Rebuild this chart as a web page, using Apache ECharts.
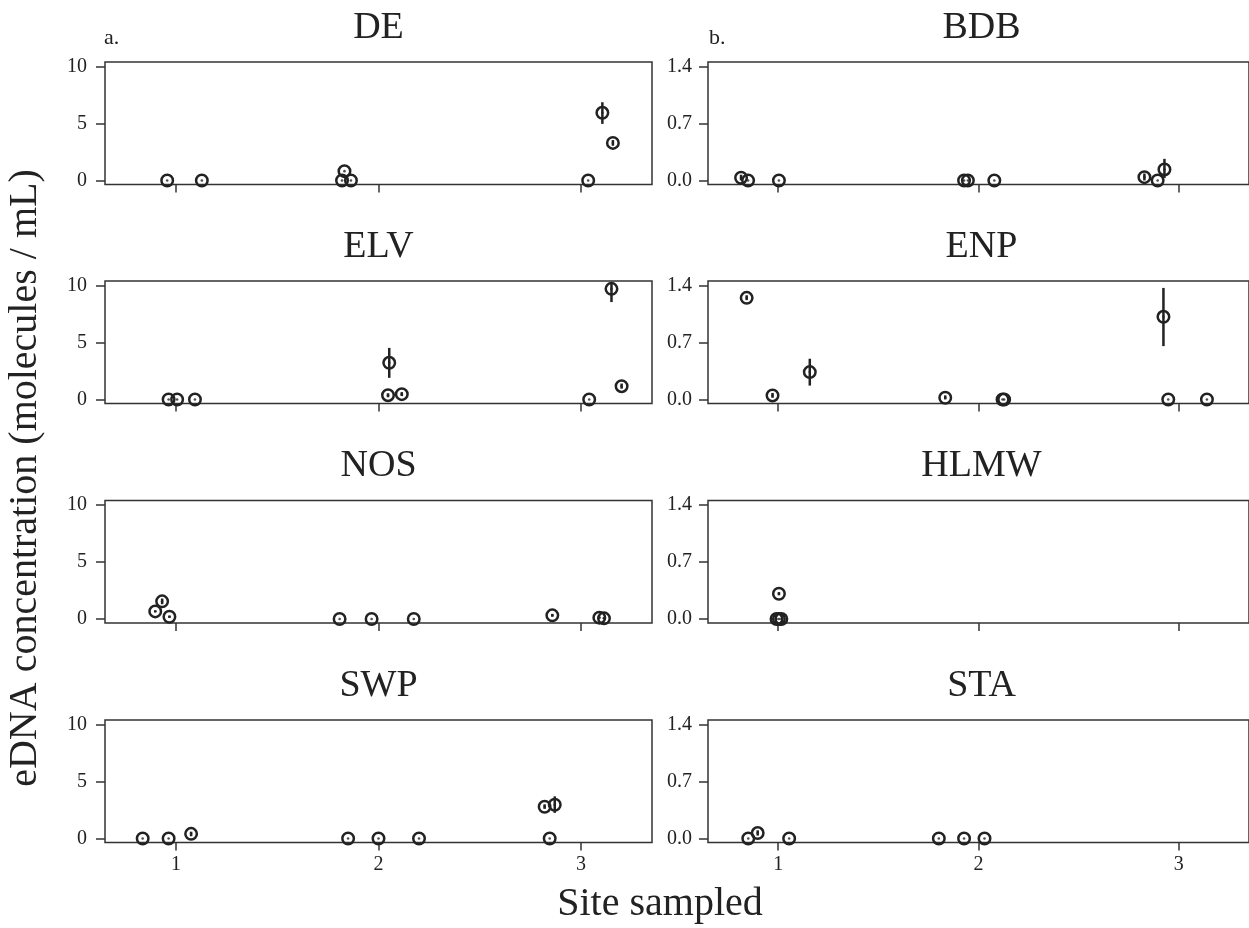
<!DOCTYPE html>
<html>
<head>
<meta charset="utf-8">
<script src="https://cdn.jsdelivr.net/npm/echarts@6/dist/echarts.min.js"></script>
<style>
  html, body { margin: 0; padding: 0; background: #fff; }
  #chart { width: 1249px; height: 928px; }
</style>
</head>
<body>
<div id="chart"></div>
<script>
// ---- Data: each row = [site (jittered), concentration, lower, upper] ----
const DE = [
  [0.957, 0, 0, 0], [1.128, 0, 0, 0],
  [1.820, 0, 0, 0], [1.832, 0.82, 0.82, 0.82], [1.864, 0, 0, 0],
  [3.035, 0, 0, 0], [3.105, 5.94, 4.97, 6.87], [3.157, 3.30, 3.05, 3.55]
];
const ELV = [
  [0.964, 0, 0, 0], [1.006, 0, 0, 0], [1.094, 0, 0, 0],
  [2.053, 3.22, 1.90, 4.53], [2.047, 0.38, 0.20, 0.55], [2.115, 0.47, 0.30, 0.65],
  [3.040, 0, 0, 0], [3.150, 9.71, 8.55, 10.25], [3.200, 1.17, 0.95, 1.40]
];
const NOS = [
  [0.898, 0.67, 0.60, 0.75], [0.932, 1.55, 1.30, 1.80], [0.968, 0.20, 0.10, 0.30],
  [1.808, 0, 0, 0], [1.966, 0, 0, 0], [2.174, 0, 0, 0],
  [2.858, 0.32, 0.20, 0.45], [3.090, 0.12, 0.05, 0.20], [3.113, 0.06, 0.00, 0.15]
];
const SWP = [
  [0.836, 0, 0, 0], [0.964, 0, 0, 0], [1.075, 0.41, 0.20, 0.60],
  [1.850, 0, 0, 0], [2.000, 0, 0, 0], [2.200, 0, 0, 0],
  [2.820, 2.79, 2.60, 3.00], [2.870, 2.96, 2.25, 3.70], [2.845, 0, 0, 0]
];
const BDB = [
  [0.815, 0.033, 0.000, 0.070], [0.850, 0, 0, 0], [1.004, 0, 0, 0],
  [1.928, 0, 0, 0], [1.947, 0, 0, 0], [2.079, 0, 0, 0],
  [2.828, 0.040, 0.000, 0.085], [2.894, 0, 0, 0], [2.928, 0.135, 0.030, 0.265]
];
const ENP = [
  [0.843, 1.248, 1.220, 1.280], [0.972, 0.049, 0.020, 0.080], [1.158, 0.336, 0.170, 0.500],
  [1.834, 0.020, 0.000, 0.050], [2.120, 0, 0, 0], [2.128, 0, 0, 0],
  [2.923, 1.015, 0.655, 1.370], [2.947, 0, 0, 0], [3.140, 0, 0, 0]
];
const HLMW = [
  [1.004, 0.31, 0.29, 0.33], [0.992, 0, 0, 0], [1.004, 0, 0, 0], [1.016, 0, 0, 0]
];
const STA = [
  [0.851, 0, 0, 0], [0.898, 0.066, 0.035, 0.100], [1.055, 0, 0, 0],
  [1.802, 0, 0, 0], [1.928, 0, 0, 0], [2.030, 0, 0, 0]
];

const leftTicks = [0, 5, 10];
const rightTicks = [0, 0.7, 1.4];
const siteTicks = [1, 2, 3];
const leftNames = ['DE', 'ELV', 'NOS', 'SWP'];
const rightNames = ['BDB', 'ENP', 'HLMW', 'STA'];
const leftData = [DE, ELV, NOS, SWP];
const rightData = [BDB, ENP, HLMW, STA];

// ---- Layout ----
const FONT = '"Liberation Serif", "Times New Roman", serif';
const INK = '#222';
const colX = [105, 708];
const W = 547;
const rowTop = [62, 281, 500.5, 720];
const H = 122.5;

const grids = [], xAxes = [], yAxes = [], series = [], graphics = [];

function addPanel(col, row, name, data) {
  const idx = grids.length;
  const left = colX[col], top = rowTop[row];
  grids.push({ left: left, top: top, width: W, height: H, show: true,
    borderColor: '#333', borderWidth: 1.5, backgroundColor: 'transparent' });
  const bottomRow = row === 3;
  xAxes.push({
    type: 'value', gridIndex: idx, min: 0.65, max: 3.35, position: 'bottom',
    axisLine: { show: false, onZero: false },
    axisTick: { show: true, inside: false, length: 8, customValues: siteTicks,
      lineStyle: { color: '#333', width: 1.5 } },
    axisLabel: { show: bottomRow, customValues: siteTicks, margin: 12,
      fontFamily: FONT, fontSize: 20, color: INK },
    splitLine: { show: false }
  });
  const ticks = col === 0 ? leftTicks : rightTicks;
  yAxes.push({
    type: 'value', gridIndex: idx, position: 'left',
    min: col === 0 ? -0.35 : -0.05, max: col === 0 ? 10.4 : 1.455,
    axisLine: { show: false, onZero: false },
    axisTick: { show: true, inside: false, length: 9, customValues: ticks,
      lineStyle: { color: '#333', width: 1.5 } },
    axisLabel: { show: true, customValues: ticks, margin: col === 0 ? 18 : 16,
      fontFamily: FONT, fontSize: 20, color: INK,
      formatter: function (v) { return col === 0 ? String(Math.round(v)) : v.toFixed(1); } },
    splitLine: { show: false }
  });
  series.push({
    type: 'custom', xAxisIndex: idx, yAxisIndex: idx, silent: true,
    data: data.filter(function (r) { return r[3] > r[2]; }),
    encode: { x: 0, y: [2, 3] },
    renderItem: function (params, api) {
      const p1 = api.coord([api.value(0), api.value(2)]);
      const p2 = api.coord([api.value(0), api.value(3)]);
      return { type: 'line', shape: { x1: p1[0], y1: p1[1], x2: p2[0], y2: p2[1] },
        style: { stroke: INK, lineWidth: 2.5 } };
    }
  });
  series.push({
    type: 'scatter', xAxisIndex: idx, yAxisIndex: idx, silent: true,
    data: data, encode: { x: 0, y: 1 },
    symbol: 'circle', symbolSize: 11.5,
    itemStyle: { color: 'rgba(255,255,255,0)', borderColor: INK, borderWidth: 2.5, opacity: 1 }
  });
  series.push({
    type: 'scatter', xAxisIndex: idx, yAxisIndex: idx, silent: true,
    data: data, encode: { x: 0, y: 1 },
    symbol: 'circle', symbolSize: 2.6,
    itemStyle: { color: INK }
  });
  graphics.push({ type: 'text', x: left + W / 2, y: top - 34,
    style: { text: name, font: '38px ' + FONT, fill: INK, align: 'center', verticalAlign: 'middle' } });
}

for (let r = 0; r < 4; r++) {
  addPanel(0, r, leftNames[r], leftData[r]);
  addPanel(1, r, rightNames[r], rightData[r]);
}

graphics.push({ type: 'text', x: 104, y: 38,
  style: { text: 'a.', font: '22px ' + FONT, fill: INK, align: 'left', verticalAlign: 'middle' } });
graphics.push({ type: 'text', x: 709, y: 38,
  style: { text: 'b.', font: '22px ' + FONT, fill: INK, align: 'left', verticalAlign: 'middle' } });
graphics.push({ type: 'text', x: 25, y: 478, rotation: Math.PI / 2,
  style: { text: 'eDNA concentration (molecules / mL)', font: '40px ' + FONT, fill: INK,
    align: 'center', verticalAlign: 'middle' } });
graphics.push({ type: 'text', x: 660, y: 904,
  style: { text: 'Site sampled', font: '40px ' + FONT, fill: INK, align: 'center', verticalAlign: 'middle' } });

const chart = echarts.init(document.getElementById('chart'), null, { renderer: 'canvas' });
chart.setOption({
  animation: false,
  backgroundColor: '#fff',
  grid: grids, xAxis: xAxes, yAxis: yAxes, series: series,
  graphic: graphics
});
</script>
</body>
</html>
